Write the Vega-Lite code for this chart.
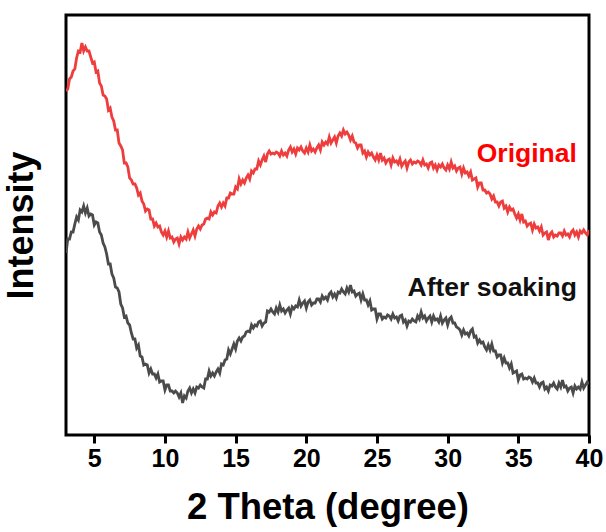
{
  "$schema": "https://vega.github.io/schema/vega-lite/v6.json",
  "width": 523,
  "height": 420,
  "autosize": {"type": "none"},
  "padding": {"left": 66, "top": 15, "right": 17, "bottom": 97},
  "background": "white",
  "config": {
    "view": {"stroke": "#000000", "strokeWidth": 3},
    "font": "Liberation Sans"
  },
  "datasets": {
    "patterns": [
      {"theta":3,"intensity":345,"sample":"Original"},{"theta":3.125,"intensity":347,"sample":"Original"},{"theta":3.25,"intensity":357,"sample":"Original"},{"theta":3.375,"intensity":359,"sample":"Original"},
      {"theta":3.5,"intensity":365,"sample":"Original"},{"theta":3.625,"intensity":367,"sample":"Original"},{"theta":3.75,"intensity":378,"sample":"Original"},{"theta":3.875,"intensity":385,"sample":"Original"},
      {"theta":4,"intensity":384,"sample":"Original"},{"theta":4.125,"intensity":393,"sample":"Original"},{"theta":4.25,"intensity":385,"sample":"Original"},{"theta":4.375,"intensity":389,"sample":"Original"},
      {"theta":4.5,"intensity":385,"sample":"Original"},{"theta":4.625,"intensity":385,"sample":"Original"},{"theta":4.75,"intensity":379,"sample":"Original"},{"theta":4.875,"intensity":373,"sample":"Original"},
      {"theta":5,"intensity":374,"sample":"Original"},{"theta":5.125,"intensity":364,"sample":"Original"},{"theta":5.25,"intensity":365,"sample":"Original"},{"theta":5.375,"intensity":353,"sample":"Original"},
      {"theta":5.5,"intensity":350,"sample":"Original"},{"theta":5.625,"intensity":341,"sample":"Original"},{"theta":5.75,"intensity":340,"sample":"Original"},{"theta":5.875,"intensity":337,"sample":"Original"},
      {"theta":6,"intensity":326,"sample":"Original"},{"theta":6.125,"intensity":328,"sample":"Original"},{"theta":6.25,"intensity":319,"sample":"Original"},{"theta":6.375,"intensity":315,"sample":"Original"},
      {"theta":6.5,"intensity":306,"sample":"Original"},{"theta":6.625,"intensity":306,"sample":"Original"},{"theta":6.75,"intensity":293,"sample":"Original"},{"theta":6.875,"intensity":290,"sample":"Original"},
      {"theta":7,"intensity":286,"sample":"Original"},{"theta":7.125,"intensity":273,"sample":"Original"},{"theta":7.25,"intensity":273,"sample":"Original"},{"theta":7.375,"intensity":269,"sample":"Original"},
      {"theta":7.5,"intensity":258,"sample":"Original"},{"theta":7.625,"intensity":256,"sample":"Original"},{"theta":7.75,"intensity":252,"sample":"Original"},{"theta":7.875,"intensity":252,"sample":"Original"},
      {"theta":8,"intensity":248,"sample":"Original"},{"theta":8.125,"intensity":241,"sample":"Original"},{"theta":8.25,"intensity":243,"sample":"Original"},{"theta":8.375,"intensity":235,"sample":"Original"},
      {"theta":8.5,"intensity":232,"sample":"Original"},{"theta":8.625,"intensity":225,"sample":"Original"},{"theta":8.75,"intensity":227,"sample":"Original"},{"theta":8.875,"intensity":226,"sample":"Original"},
      {"theta":9,"intensity":217,"sample":"Original"},{"theta":9.125,"intensity":217,"sample":"Original"},{"theta":9.25,"intensity":210,"sample":"Original"},{"theta":9.375,"intensity":213,"sample":"Original"},
      {"theta":9.5,"intensity":209,"sample":"Original"},{"theta":9.625,"intensity":210,"sample":"Original"},{"theta":9.75,"intensity":204,"sample":"Original"},{"theta":9.875,"intensity":201,"sample":"Original"},
      {"theta":10,"intensity":205,"sample":"Original"},{"theta":10.125,"intensity":199,"sample":"Original"},{"theta":10.25,"intensity":205,"sample":"Original"},{"theta":10.375,"intensity":198,"sample":"Original"},
      {"theta":10.5,"intensity":199,"sample":"Original"},{"theta":10.625,"intensity":194,"sample":"Original"},{"theta":10.75,"intensity":197,"sample":"Original"},{"theta":10.875,"intensity":198,"sample":"Original"},
      {"theta":11,"intensity":192,"sample":"Original"},{"theta":11.125,"intensity":199,"sample":"Original"},{"theta":11.25,"intensity":196,"sample":"Original"},{"theta":11.375,"intensity":199,"sample":"Original"},
      {"theta":11.5,"intensity":197,"sample":"Original"},{"theta":11.625,"intensity":204,"sample":"Original"},{"theta":11.75,"intensity":198,"sample":"Original"},{"theta":11.875,"intensity":202,"sample":"Original"},
      {"theta":12,"intensity":206,"sample":"Original"},{"theta":12.125,"intensity":200,"sample":"Original"},{"theta":12.25,"intensity":207,"sample":"Original"},{"theta":12.375,"intensity":210,"sample":"Original"},
      {"theta":12.5,"intensity":207,"sample":"Original"},{"theta":12.625,"intensity":211,"sample":"Original"},{"theta":12.75,"intensity":212,"sample":"Original"},{"theta":12.875,"intensity":217,"sample":"Original"},
      {"theta":13,"intensity":218,"sample":"Original"},{"theta":13.125,"intensity":217,"sample":"Original"},{"theta":13.25,"intensity":224,"sample":"Original"},{"theta":13.375,"intensity":221,"sample":"Original"},
      {"theta":13.5,"intensity":224,"sample":"Original"},{"theta":13.625,"intensity":223,"sample":"Original"},{"theta":13.75,"intensity":230,"sample":"Original"},{"theta":13.875,"intensity":233,"sample":"Original"},
      {"theta":14,"intensity":229,"sample":"Original"},{"theta":14.125,"intensity":233,"sample":"Original"},{"theta":14.25,"intensity":230,"sample":"Original"},{"theta":14.375,"intensity":238,"sample":"Original"},
      {"theta":14.5,"intensity":238,"sample":"Original"},{"theta":14.625,"intensity":243,"sample":"Original"},{"theta":14.75,"intensity":242,"sample":"Original"},{"theta":14.875,"intensity":242,"sample":"Original"},
      {"theta":15,"intensity":249,"sample":"Original"},{"theta":15.125,"intensity":247,"sample":"Original"},{"theta":15.25,"intensity":257,"sample":"Original"},{"theta":15.375,"intensity":252,"sample":"Original"},
      {"theta":15.5,"intensity":256,"sample":"Original"},{"theta":15.625,"intensity":253,"sample":"Original"},{"theta":15.75,"intensity":258,"sample":"Original"},{"theta":15.875,"intensity":261,"sample":"Original"},
      {"theta":16,"intensity":257,"sample":"Original"},{"theta":16.125,"intensity":265,"sample":"Original"},{"theta":16.25,"intensity":263,"sample":"Original"},{"theta":16.375,"intensity":267,"sample":"Original"},
      {"theta":16.5,"intensity":267,"sample":"Original"},{"theta":16.625,"intensity":275,"sample":"Original"},{"theta":16.75,"intensity":271,"sample":"Original"},{"theta":16.875,"intensity":276,"sample":"Original"},
      {"theta":17,"intensity":280,"sample":"Original"},{"theta":17.125,"intensity":274,"sample":"Original"},{"theta":17.25,"intensity":282,"sample":"Original"},{"theta":17.375,"intensity":285,"sample":"Original"},
      {"theta":17.5,"intensity":282,"sample":"Original"},{"theta":17.625,"intensity":283,"sample":"Original"},{"theta":17.75,"intensity":282,"sample":"Original"},{"theta":17.875,"intensity":284,"sample":"Original"},
      {"theta":18,"intensity":283,"sample":"Original"},{"theta":18.125,"intensity":280,"sample":"Original"},{"theta":18.25,"intensity":285,"sample":"Original"},{"theta":18.375,"intensity":281,"sample":"Original"},
      {"theta":18.5,"intensity":283,"sample":"Original"},{"theta":18.625,"intensity":280,"sample":"Original"},{"theta":18.75,"intensity":286,"sample":"Original"},{"theta":18.875,"intensity":289,"sample":"Original"},
      {"theta":19,"intensity":284,"sample":"Original"},{"theta":19.125,"intensity":287,"sample":"Original"},{"theta":19.25,"intensity":282,"sample":"Original"},{"theta":19.375,"intensity":288,"sample":"Original"},
      {"theta":19.5,"intensity":286,"sample":"Original"},{"theta":19.625,"intensity":289,"sample":"Original"},{"theta":19.75,"intensity":285,"sample":"Original"},{"theta":19.875,"intensity":283,"sample":"Original"},
      {"theta":20,"intensity":288,"sample":"Original"},{"theta":20.125,"intensity":284,"sample":"Original"},{"theta":20.25,"intensity":291,"sample":"Original"},{"theta":20.375,"intensity":285,"sample":"Original"},
      {"theta":20.5,"intensity":287,"sample":"Original"},{"theta":20.625,"intensity":284,"sample":"Original"},{"theta":20.75,"intensity":288,"sample":"Original"},{"theta":20.875,"intensity":291,"sample":"Original"},
      {"theta":21,"intensity":286,"sample":"Original"},{"theta":21.125,"intensity":294,"sample":"Original"},{"theta":21.25,"intensity":291,"sample":"Original"},{"theta":21.375,"intensity":294,"sample":"Original"},
      {"theta":21.5,"intensity":292,"sample":"Original"},{"theta":21.625,"intensity":299,"sample":"Original"},{"theta":21.75,"intensity":293,"sample":"Original"},{"theta":21.875,"intensity":296,"sample":"Original"},
      {"theta":22,"intensity":299,"sample":"Original"},{"theta":22.125,"intensity":293,"sample":"Original"},{"theta":22.25,"intensity":300,"sample":"Original"},{"theta":22.375,"intensity":303,"sample":"Original"},
      {"theta":22.5,"intensity":300,"sample":"Original"},{"theta":22.625,"intensity":306,"sample":"Original"},{"theta":22.75,"intensity":302,"sample":"Original"},{"theta":22.875,"intensity":304,"sample":"Original"},
      {"theta":23,"intensity":301,"sample":"Original"},{"theta":23.125,"intensity":296,"sample":"Original"},{"theta":23.25,"intensity":300,"sample":"Original"},{"theta":23.375,"intensity":294,"sample":"Original"},
      {"theta":23.5,"intensity":293,"sample":"Original"},{"theta":23.625,"intensity":288,"sample":"Original"},{"theta":23.75,"intensity":291,"sample":"Original"},{"theta":23.875,"intensity":291,"sample":"Original"},
      {"theta":24,"intensity":283,"sample":"Original"},{"theta":24.125,"intensity":285,"sample":"Original"},{"theta":24.25,"intensity":279,"sample":"Original"},{"theta":24.375,"intensity":284,"sample":"Original"},
      {"theta":24.5,"intensity":281,"sample":"Original"},{"theta":24.625,"intensity":283,"sample":"Original"},{"theta":24.75,"intensity":279,"sample":"Original"},{"theta":24.875,"intensity":276,"sample":"Original"},
      {"theta":25,"intensity":281,"sample":"Original"},{"theta":25.125,"intensity":276,"sample":"Original"},{"theta":25.25,"intensity":283,"sample":"Original"},{"theta":25.375,"intensity":276,"sample":"Original"},
      {"theta":25.5,"intensity":278,"sample":"Original"},{"theta":25.625,"intensity":273,"sample":"Original"},{"theta":25.75,"intensity":276,"sample":"Original"},{"theta":25.875,"intensity":277,"sample":"Original"},
      {"theta":26,"intensity":271,"sample":"Original"},{"theta":26.125,"intensity":278,"sample":"Original"},{"theta":26.25,"intensity":274,"sample":"Original"},{"theta":26.375,"intensity":275,"sample":"Original"},
      {"theta":26.5,"intensity":272,"sample":"Original"},{"theta":26.625,"intensity":277,"sample":"Original"},{"theta":26.75,"intensity":270,"sample":"Original"},{"theta":26.875,"intensity":273,"sample":"Original"},
      {"theta":27,"intensity":275,"sample":"Original"},{"theta":27.125,"intensity":268,"sample":"Original"},{"theta":27.25,"intensity":274,"sample":"Original"},{"theta":27.375,"intensity":276,"sample":"Original"},
      {"theta":27.5,"intensity":272,"sample":"Original"},{"theta":27.625,"intensity":274,"sample":"Original"},{"theta":27.75,"intensity":273,"sample":"Original"},{"theta":27.875,"intensity":275,"sample":"Original"},
      {"theta":28,"intensity":274,"sample":"Original"},{"theta":28.125,"intensity":271,"sample":"Original"},{"theta":28.25,"intensity":276,"sample":"Original"},{"theta":28.375,"intensity":271,"sample":"Original"},
      {"theta":28.5,"intensity":272,"sample":"Original"},{"theta":28.625,"intensity":268,"sample":"Original"},{"theta":28.75,"intensity":273,"sample":"Original"},{"theta":28.875,"intensity":274,"sample":"Original"},
      {"theta":29,"intensity":268,"sample":"Original"},{"theta":29.125,"intensity":271,"sample":"Original"},{"theta":29.25,"intensity":266,"sample":"Original"},{"theta":29.375,"intensity":271,"sample":"Original"},
      {"theta":29.5,"intensity":269,"sample":"Original"},{"theta":29.625,"intensity":272,"sample":"Original"},{"theta":29.75,"intensity":268,"sample":"Original"},{"theta":29.875,"intensity":266,"sample":"Original"},
      {"theta":30,"intensity":271,"sample":"Original"},{"theta":30.125,"intensity":267,"sample":"Original"},{"theta":30.25,"intensity":274,"sample":"Original"},{"theta":30.375,"intensity":268,"sample":"Original"},
      {"theta":30.5,"intensity":270,"sample":"Original"},{"theta":30.625,"intensity":265,"sample":"Original"},{"theta":30.75,"intensity":268,"sample":"Original"},{"theta":30.875,"intensity":269,"sample":"Original"},
      {"theta":31,"intensity":262,"sample":"Original"},{"theta":31.125,"intensity":268,"sample":"Original"},{"theta":31.25,"intensity":263,"sample":"Original"},{"theta":31.375,"intensity":264,"sample":"Original"},
      {"theta":31.5,"intensity":260,"sample":"Original"},{"theta":31.625,"intensity":264,"sample":"Original"},{"theta":31.75,"intensity":256,"sample":"Original"},{"theta":31.875,"intensity":257,"sample":"Original"},
      {"theta":32,"intensity":258,"sample":"Original"},{"theta":32.125,"intensity":249,"sample":"Original"},{"theta":32.25,"intensity":253,"sample":"Original"},{"theta":32.375,"intensity":253,"sample":"Original"},
      {"theta":32.5,"intensity":246,"sample":"Original"},{"theta":32.625,"intensity":246,"sample":"Original"},{"theta":32.75,"intensity":243,"sample":"Original"},{"theta":32.875,"intensity":244,"sample":"Original"},
      {"theta":33,"intensity":242,"sample":"Original"},{"theta":33.125,"intensity":237,"sample":"Original"},{"theta":33.25,"intensity":240,"sample":"Original"},{"theta":33.375,"intensity":234,"sample":"Original"},
      {"theta":33.5,"intensity":234,"sample":"Original"},{"theta":33.625,"intensity":230,"sample":"Original"},{"theta":33.75,"intensity":234,"sample":"Original"},{"theta":33.875,"intensity":235,"sample":"Original"},
      {"theta":34,"intensity":228,"sample":"Original"},{"theta":34.125,"intensity":230,"sample":"Original"},{"theta":34.25,"intensity":224,"sample":"Original"},{"theta":34.375,"intensity":229,"sample":"Original"},
      {"theta":34.5,"intensity":226,"sample":"Original"},{"theta":34.625,"intensity":227,"sample":"Original"},{"theta":34.75,"intensity":222,"sample":"Original"},{"theta":34.875,"intensity":218,"sample":"Original"},
      {"theta":35,"intensity":222,"sample":"Original"},{"theta":35.125,"intensity":216,"sample":"Original"},{"theta":35.25,"intensity":222,"sample":"Original"},{"theta":35.375,"intensity":214,"sample":"Original"},
      {"theta":35.5,"intensity":215,"sample":"Original"},{"theta":35.625,"intensity":210,"sample":"Original"},{"theta":35.75,"intensity":212,"sample":"Original"},{"theta":35.875,"intensity":213,"sample":"Original"},
      {"theta":36,"intensity":206,"sample":"Original"},{"theta":36.125,"intensity":212,"sample":"Original"},{"theta":36.25,"intensity":208,"sample":"Original"},{"theta":36.375,"intensity":209,"sample":"Original"},
      {"theta":36.5,"intensity":205,"sample":"Original"},{"theta":36.625,"intensity":209,"sample":"Original"},{"theta":36.75,"intensity":201,"sample":"Original"},{"theta":36.875,"intensity":203,"sample":"Original"},
      {"theta":37,"intensity":204,"sample":"Original"},{"theta":37.125,"intensity":196,"sample":"Original"},{"theta":37.25,"intensity":202,"sample":"Original"},{"theta":37.375,"intensity":204,"sample":"Original"},
      {"theta":37.5,"intensity":199,"sample":"Original"},{"theta":37.625,"intensity":201,"sample":"Original"},{"theta":37.75,"intensity":200,"sample":"Original"},{"theta":37.875,"intensity":203,"sample":"Original"},
      {"theta":38,"intensity":203,"sample":"Original"},{"theta":38.125,"intensity":200,"sample":"Original"},{"theta":38.25,"intensity":205,"sample":"Original"},{"theta":38.375,"intensity":201,"sample":"Original"},
      {"theta":38.5,"intensity":202,"sample":"Original"},{"theta":38.625,"intensity":199,"sample":"Original"},{"theta":38.75,"intensity":204,"sample":"Original"},{"theta":38.875,"intensity":206,"sample":"Original"},
      {"theta":39,"intensity":201,"sample":"Original"},{"theta":39.125,"intensity":204,"sample":"Original"},{"theta":39.25,"intensity":199,"sample":"Original"},{"theta":39.375,"intensity":205,"sample":"Original"},
      {"theta":39.5,"intensity":203,"sample":"Original"},{"theta":39.625,"intensity":206,"sample":"Original"},{"theta":39.75,"intensity":203,"sample":"Original"},{"theta":39.875,"intensity":201,"sample":"Original"},
      {"theta":40,"intensity":206,"sample":"Original"},

      {"theta":3,"intensity":183,"sample":"After soaking"},{"theta":3.125,"intensity":197,"sample":"After soaking"},{"theta":3.25,"intensity":197,"sample":"After soaking"},{"theta":3.375,"intensity":204,"sample":"After soaking"},
      {"theta":3.5,"intensity":204,"sample":"After soaking"},{"theta":3.625,"intensity":212,"sample":"After soaking"},{"theta":3.75,"intensity":219,"sample":"After soaking"},{"theta":3.875,"intensity":216,"sample":"After soaking"},
      {"theta":4,"intensity":226,"sample":"After soaking"},{"theta":4.125,"intensity":224,"sample":"After soaking"},{"theta":4.25,"intensity":230,"sample":"After soaking"},{"theta":4.375,"intensity":223,"sample":"After soaking"},
      {"theta":4.5,"intensity":228,"sample":"After soaking"},{"theta":4.625,"intensity":220,"sample":"After soaking"},{"theta":4.75,"intensity":222,"sample":"After soaking"},{"theta":4.875,"intensity":221,"sample":"After soaking"},
      {"theta":5,"intensity":211,"sample":"After soaking"},{"theta":5.125,"intensity":214,"sample":"After soaking"},{"theta":5.25,"intensity":213,"sample":"After soaking"},{"theta":5.375,"intensity":204,"sample":"After soaking"},
      {"theta":5.5,"intensity":201,"sample":"After soaking"},{"theta":5.625,"intensity":193,"sample":"After soaking"},{"theta":5.75,"intensity":189,"sample":"After soaking"},{"theta":5.875,"intensity":182,"sample":"After soaking"},
      {"theta":6,"intensity":172,"sample":"After soaking"},{"theta":6.125,"intensity":172,"sample":"After soaking"},{"theta":6.25,"intensity":162,"sample":"After soaking"},{"theta":6.375,"intensity":158,"sample":"After soaking"},
      {"theta":6.5,"intensity":149,"sample":"After soaking"},{"theta":6.625,"intensity":148,"sample":"After soaking"},{"theta":6.75,"intensity":144,"sample":"After soaking"},{"theta":6.875,"intensity":132,"sample":"After soaking"},
      {"theta":7,"intensity":128,"sample":"After soaking"},{"theta":7.125,"intensity":119,"sample":"After soaking"},{"theta":7.25,"intensity":120,"sample":"After soaking"},{"theta":7.375,"intensity":113,"sample":"After soaking"},
      {"theta":7.5,"intensity":111,"sample":"After soaking"},{"theta":7.625,"intensity":103,"sample":"After soaking"},{"theta":7.75,"intensity":97,"sample":"After soaking"},{"theta":7.875,"intensity":97,"sample":"After soaking"},
      {"theta":8,"intensity":88,"sample":"After soaking"},{"theta":8.125,"intensity":91,"sample":"After soaking"},{"theta":8.25,"intensity":80,"sample":"After soaking"},{"theta":8.375,"intensity":79,"sample":"After soaking"},
      {"theta":8.5,"intensity":71,"sample":"After soaking"},{"theta":8.625,"intensity":72,"sample":"After soaking"},{"theta":8.75,"intensity":71,"sample":"After soaking"},{"theta":8.875,"intensity":63,"sample":"After soaking"},
      {"theta":9,"intensity":67,"sample":"After soaking"},{"theta":9.125,"intensity":62,"sample":"After soaking"},{"theta":9.25,"intensity":62,"sample":"After soaking"},{"theta":9.375,"intensity":58,"sample":"After soaking"},
      {"theta":9.5,"intensity":62,"sample":"After soaking"},{"theta":9.625,"intensity":54,"sample":"After soaking"},{"theta":9.75,"intensity":55,"sample":"After soaking"},{"theta":9.875,"intensity":55,"sample":"After soaking"},
      {"theta":10,"intensity":46,"sample":"After soaking"},{"theta":10.125,"intensity":51,"sample":"After soaking"},{"theta":10.25,"intensity":51,"sample":"After soaking"},{"theta":10.375,"intensity":45,"sample":"After soaking"},
      {"theta":10.5,"intensity":45,"sample":"After soaking"},{"theta":10.625,"intensity":43,"sample":"After soaking"},{"theta":10.75,"intensity":45,"sample":"After soaking"},{"theta":10.875,"intensity":43,"sample":"After soaking"},
      {"theta":11,"intensity":39,"sample":"After soaking"},{"theta":11.125,"intensity":43,"sample":"After soaking"},{"theta":11.25,"intensity":33,"sample":"After soaking"},{"theta":11.375,"intensity":40,"sample":"After soaking"},
      {"theta":11.5,"intensity":38,"sample":"After soaking"},{"theta":11.625,"intensity":45,"sample":"After soaking"},{"theta":11.75,"intensity":48,"sample":"After soaking"},{"theta":11.875,"intensity":43,"sample":"After soaking"},
      {"theta":12,"intensity":47,"sample":"After soaking"},{"theta":12.125,"intensity":43,"sample":"After soaking"},{"theta":12.25,"intensity":49,"sample":"After soaking"},{"theta":12.375,"intensity":48,"sample":"After soaking"},
      {"theta":12.5,"intensity":51,"sample":"After soaking"},{"theta":12.625,"intensity":49,"sample":"After soaking"},{"theta":12.75,"intensity":48,"sample":"After soaking"},{"theta":12.875,"intensity":57,"sample":"After soaking"},
      {"theta":13,"intensity":57,"sample":"After soaking"},{"theta":13.125,"intensity":65,"sample":"After soaking"},{"theta":13.25,"intensity":60,"sample":"After soaking"},{"theta":13.375,"intensity":63,"sample":"After soaking"},
      {"theta":13.5,"intensity":60,"sample":"After soaking"},{"theta":13.625,"intensity":64,"sample":"After soaking"},{"theta":13.75,"intensity":67,"sample":"After soaking"},{"theta":13.875,"intensity":63,"sample":"After soaking"},
      {"theta":14,"intensity":72,"sample":"After soaking"},{"theta":14.125,"intensity":71,"sample":"After soaking"},{"theta":14.25,"intensity":76,"sample":"After soaking"},{"theta":14.375,"intensity":77,"sample":"After soaking"},
      {"theta":14.5,"intensity":86,"sample":"After soaking"},{"theta":14.625,"intensity":82,"sample":"After soaking"},{"theta":14.75,"intensity":87,"sample":"After soaking"},{"theta":14.875,"intensity":92,"sample":"After soaking"},
      {"theta":15,"intensity":87,"sample":"After soaking"},{"theta":15.125,"intensity":95,"sample":"After soaking"},{"theta":15.25,"intensity":98,"sample":"After soaking"},{"theta":15.375,"intensity":95,"sample":"After soaking"},
      {"theta":15.5,"intensity":99,"sample":"After soaking"},{"theta":15.625,"intensity":100,"sample":"After soaking"},{"theta":15.75,"intensity":104,"sample":"After soaking"},{"theta":15.875,"intensity":105,"sample":"After soaking"},
      {"theta":16,"intensity":104,"sample":"After soaking"},{"theta":16.125,"intensity":111,"sample":"After soaking"},{"theta":16.25,"intensity":108,"sample":"After soaking"},{"theta":16.375,"intensity":111,"sample":"After soaking"},
      {"theta":16.5,"intensity":110,"sample":"After soaking"},{"theta":16.625,"intensity":114,"sample":"After soaking"},{"theta":16.75,"intensity":115,"sample":"After soaking"},{"theta":16.875,"intensity":110,"sample":"After soaking"},
      {"theta":17,"intensity":113,"sample":"After soaking"},{"theta":17.125,"intensity":114,"sample":"After soaking"},{"theta":17.25,"intensity":125,"sample":"After soaking"},{"theta":17.375,"intensity":124,"sample":"After soaking"},
      {"theta":17.5,"intensity":127,"sample":"After soaking"},{"theta":17.625,"intensity":124,"sample":"After soaking"},{"theta":17.75,"intensity":122,"sample":"After soaking"},{"theta":17.875,"intensity":128,"sample":"After soaking"},
      {"theta":18,"intensity":124,"sample":"After soaking"},{"theta":18.125,"intensity":131,"sample":"After soaking"},{"theta":18.25,"intensity":125,"sample":"After soaking"},{"theta":18.375,"intensity":127,"sample":"After soaking"},
      {"theta":18.5,"intensity":123,"sample":"After soaking"},{"theta":18.625,"intensity":126,"sample":"After soaking"},{"theta":18.75,"intensity":128,"sample":"After soaking"},{"theta":18.875,"intensity":122,"sample":"After soaking"},
      {"theta":19,"intensity":129,"sample":"After soaking"},{"theta":19.125,"intensity":127,"sample":"After soaking"},{"theta":19.25,"intensity":130,"sample":"After soaking"},{"theta":19.375,"intensity":129,"sample":"After soaking"},
      {"theta":19.5,"intensity":136,"sample":"After soaking"},{"theta":19.625,"intensity":130,"sample":"After soaking"},{"theta":19.75,"intensity":133,"sample":"After soaking"},{"theta":19.875,"intensity":135,"sample":"After soaking"},
      {"theta":20,"intensity":128,"sample":"After soaking"},{"theta":20.125,"intensity":134,"sample":"After soaking"},{"theta":20.25,"intensity":136,"sample":"After soaking"},{"theta":20.375,"intensity":131,"sample":"After soaking"},
      {"theta":20.5,"intensity":133,"sample":"After soaking"},{"theta":20.625,"intensity":133,"sample":"After soaking"},{"theta":20.75,"intensity":137,"sample":"After soaking"},{"theta":20.875,"intensity":137,"sample":"After soaking"},
      {"theta":21,"intensity":134,"sample":"After soaking"},{"theta":21.125,"intensity":140,"sample":"After soaking"},{"theta":21.25,"intensity":137,"sample":"After soaking"},{"theta":21.375,"intensity":139,"sample":"After soaking"},
      {"theta":21.5,"intensity":136,"sample":"After soaking"},{"theta":21.625,"intensity":142,"sample":"After soaking"},{"theta":21.75,"intensity":144,"sample":"After soaking"},{"theta":21.875,"intensity":139,"sample":"After soaking"},
      {"theta":22,"intensity":142,"sample":"After soaking"},{"theta":22.125,"intensity":138,"sample":"After soaking"},{"theta":22.25,"intensity":144,"sample":"After soaking"},{"theta":22.375,"intensity":143,"sample":"After soaking"},
      {"theta":22.5,"intensity":147,"sample":"After soaking"},{"theta":22.625,"intensity":144,"sample":"After soaking"},{"theta":22.75,"intensity":142,"sample":"After soaking"},{"theta":22.875,"intensity":148,"sample":"After soaking"},
      {"theta":23,"intensity":144,"sample":"After soaking"},{"theta":23.125,"intensity":151,"sample":"After soaking"},{"theta":23.25,"intensity":144,"sample":"After soaking"},{"theta":23.375,"intensity":145,"sample":"After soaking"},
      {"theta":23.5,"intensity":140,"sample":"After soaking"},{"theta":23.625,"intensity":142,"sample":"After soaking"},{"theta":23.75,"intensity":143,"sample":"After soaking"},{"theta":23.875,"intensity":136,"sample":"After soaking"},
      {"theta":24,"intensity":142,"sample":"After soaking"},{"theta":24.125,"intensity":136,"sample":"After soaking"},{"theta":24.25,"intensity":136,"sample":"After soaking"},{"theta":24.375,"intensity":131,"sample":"After soaking"},
      {"theta":24.5,"intensity":135,"sample":"After soaking"},{"theta":24.625,"intensity":126,"sample":"After soaking"},{"theta":24.75,"intensity":127,"sample":"After soaking"},{"theta":24.875,"intensity":127,"sample":"After soaking"},
      {"theta":25,"intensity":117,"sample":"After soaking"},{"theta":25.125,"intensity":122,"sample":"After soaking"},{"theta":25.25,"intensity":122,"sample":"After soaking"},{"theta":25.375,"intensity":117,"sample":"After soaking"},
      {"theta":25.5,"intensity":119,"sample":"After soaking"},{"theta":25.625,"intensity":118,"sample":"After soaking"},{"theta":25.75,"intensity":121,"sample":"After soaking"},{"theta":25.875,"intensity":120,"sample":"After soaking"},
      {"theta":26,"intensity":117,"sample":"After soaking"},{"theta":26.125,"intensity":122,"sample":"After soaking"},{"theta":26.25,"intensity":118,"sample":"After soaking"},{"theta":26.375,"intensity":119,"sample":"After soaking"},
      {"theta":26.5,"intensity":115,"sample":"After soaking"},{"theta":26.625,"intensity":120,"sample":"After soaking"},{"theta":26.75,"intensity":121,"sample":"After soaking"},{"theta":26.875,"intensity":114,"sample":"After soaking"},
      {"theta":27,"intensity":116,"sample":"After soaking"},{"theta":27.125,"intensity":110,"sample":"After soaking"},{"theta":27.25,"intensity":115,"sample":"After soaking"},{"theta":27.375,"intensity":114,"sample":"After soaking"},
      {"theta":27.5,"intensity":117,"sample":"After soaking"},{"theta":27.625,"intensity":115,"sample":"After soaking"},{"theta":27.75,"intensity":114,"sample":"After soaking"},{"theta":27.875,"intensity":120,"sample":"After soaking"},
      {"theta":28,"intensity":117,"sample":"After soaking"},{"theta":28.125,"intensity":124,"sample":"After soaking"},{"theta":28.25,"intensity":118,"sample":"After soaking"},{"theta":28.375,"intensity":120,"sample":"After soaking"},
      {"theta":28.5,"intensity":115,"sample":"After soaking"},{"theta":28.625,"intensity":118,"sample":"After soaking"},{"theta":28.75,"intensity":120,"sample":"After soaking"},{"theta":28.875,"intensity":114,"sample":"After soaking"},
      {"theta":29,"intensity":120,"sample":"After soaking"},{"theta":29.125,"intensity":116,"sample":"After soaking"},{"theta":29.25,"intensity":117,"sample":"After soaking"},{"theta":29.375,"intensity":114,"sample":"After soaking"},
      {"theta":29.5,"intensity":120,"sample":"After soaking"},{"theta":29.625,"intensity":113,"sample":"After soaking"},{"theta":29.75,"intensity":116,"sample":"After soaking"},{"theta":29.875,"intensity":118,"sample":"After soaking"},
      {"theta":30,"intensity":111,"sample":"After soaking"},{"theta":30.125,"intensity":117,"sample":"After soaking"},{"theta":30.25,"intensity":119,"sample":"After soaking"},{"theta":30.375,"intensity":113,"sample":"After soaking"},
      {"theta":30.5,"intensity":113,"sample":"After soaking"},{"theta":30.625,"intensity":109,"sample":"After soaking"},{"theta":30.75,"intensity":108,"sample":"After soaking"},{"theta":30.875,"intensity":106,"sample":"After soaking"},
      {"theta":31,"intensity":101,"sample":"After soaking"},{"theta":31.125,"intensity":106,"sample":"After soaking"},{"theta":31.25,"intensity":102,"sample":"After soaking"},{"theta":31.375,"intensity":103,"sample":"After soaking"},
      {"theta":31.5,"intensity":100,"sample":"After soaking"},{"theta":31.625,"intensity":105,"sample":"After soaking"},{"theta":31.75,"intensity":107,"sample":"After soaking"},{"theta":31.875,"intensity":99,"sample":"After soaking"},
      {"theta":32,"intensity":100,"sample":"After soaking"},{"theta":32.125,"intensity":93,"sample":"After soaking"},{"theta":32.25,"intensity":96,"sample":"After soaking"},{"theta":32.375,"intensity":93,"sample":"After soaking"},
      {"theta":32.5,"intensity":94,"sample":"After soaking"},{"theta":32.625,"intensity":89,"sample":"After soaking"},{"theta":32.75,"intensity":86,"sample":"After soaking"},{"theta":32.875,"intensity":91,"sample":"After soaking"},
      {"theta":33,"intensity":86,"sample":"After soaking"},{"theta":33.125,"intensity":92,"sample":"After soaking"},{"theta":33.25,"intensity":85,"sample":"After soaking"},{"theta":33.375,"intensity":85,"sample":"After soaking"},
      {"theta":33.5,"intensity":79,"sample":"After soaking"},{"theta":33.625,"intensity":81,"sample":"After soaking"},{"theta":33.75,"intensity":81,"sample":"After soaking"},{"theta":33.875,"intensity":73,"sample":"After soaking"},
      {"theta":34,"intensity":78,"sample":"After soaking"},{"theta":34.125,"intensity":73,"sample":"After soaking"},{"theta":34.25,"intensity":73,"sample":"After soaking"},{"theta":34.375,"intensity":68,"sample":"After soaking"},
      {"theta":34.5,"intensity":72,"sample":"After soaking"},{"theta":34.625,"intensity":63,"sample":"After soaking"},{"theta":34.75,"intensity":64,"sample":"After soaking"},{"theta":34.875,"intensity":65,"sample":"After soaking"},
      {"theta":35,"intensity":56,"sample":"After soaking"},{"theta":35.125,"intensity":61,"sample":"After soaking"},{"theta":35.25,"intensity":62,"sample":"After soaking"},{"theta":35.375,"intensity":57,"sample":"After soaking"},
      {"theta":35.5,"intensity":58,"sample":"After soaking"},{"theta":35.625,"intensity":57,"sample":"After soaking"},{"theta":35.75,"intensity":59,"sample":"After soaking"},{"theta":35.875,"intensity":58,"sample":"After soaking"},
      {"theta":36,"intensity":54,"sample":"After soaking"},{"theta":36.125,"intensity":58,"sample":"After soaking"},{"theta":36.25,"intensity":53,"sample":"After soaking"},{"theta":36.375,"intensity":53,"sample":"After soaking"},
      {"theta":36.5,"intensity":49,"sample":"After soaking"},{"theta":36.625,"intensity":53,"sample":"After soaking"},{"theta":36.75,"intensity":54,"sample":"After soaking"},{"theta":36.875,"intensity":47,"sample":"After soaking"},
      {"theta":37,"intensity":49,"sample":"After soaking"},{"theta":37.125,"intensity":45,"sample":"After soaking"},{"theta":37.25,"intensity":51,"sample":"After soaking"},{"theta":37.375,"intensity":50,"sample":"After soaking"},
      {"theta":37.5,"intensity":53,"sample":"After soaking"},{"theta":37.625,"intensity":49,"sample":"After soaking"},{"theta":37.75,"intensity":47,"sample":"After soaking"},{"theta":37.875,"intensity":53,"sample":"After soaking"},
      {"theta":38,"intensity":49,"sample":"After soaking"},{"theta":38.125,"intensity":56,"sample":"After soaking"},{"theta":38.25,"intensity":49,"sample":"After soaking"},{"theta":38.375,"intensity":50,"sample":"After soaking"},
      {"theta":38.5,"intensity":45,"sample":"After soaking"},{"theta":38.625,"intensity":48,"sample":"After soaking"},{"theta":38.75,"intensity":49,"sample":"After soaking"},{"theta":38.875,"intensity":43,"sample":"After soaking"},
      {"theta":39,"intensity":50,"sample":"After soaking"},{"theta":39.125,"intensity":47,"sample":"After soaking"},{"theta":39.25,"intensity":49,"sample":"After soaking"},{"theta":39.375,"intensity":47,"sample":"After soaking"},
      {"theta":39.5,"intensity":54,"sample":"After soaking"},{"theta":39.625,"intensity":48,"sample":"After soaking"},{"theta":39.75,"intensity":51,"sample":"After soaking"},{"theta":39.875,"intensity":54,"sample":"After soaking"},
      {"theta":40,"intensity":52,"sample":"After soaking"}
    ],
    "labels": [
      {"theta":39.14,"intensity":274,"sample":"Original"},
      {"theta":39.14,"intensity":140,"sample":"After soaking"}
    ]
  },
  "layer": [
    {
      "data": {"name": "patterns"},
      "mark": {"type": "line", "strokeWidth": 2.8, "clip": true},
      "encoding": {
        "x": {
          "field": "theta",
          "type": "quantitative",
          "scale": {"domain": [3, 40], "nice": false, "zero": false},
          "axis": {
            "title": "2 Theta (degree)",
            "values": [5, 7.5, 10, 12.5, 15, 17.5, 20, 22.5, 25, 27.5, 30, 32.5, 35, 37.5, 40],
            "labelExpr": "datum.value % 5 === 0 ? datum.label : ''",
            "labelFlush": false,
            "labelOverlap": false,
            "domain": false,
            "grid": false,
            "tickColor": "#000000",
            "tickWidth": 3,
            "tickSize": {"condition": {"test": "datum.value % 5 !== 0", "value": 4}, "value": 8},
            "labelFont": "Liberation Sans",
            "labelFontWeight": "bold",
            "labelFontSize": 25,
            "labelColor": "#000000",
            "labelPadding": 3,
            "titleFont": "Liberation Sans",
            "titleFontSize": 36.5,
            "titleFontWeight": "bold",
            "titleColor": "#000000",
            "titlePadding": 18
          }
        },
        "y": {
          "field": "intensity",
          "type": "quantitative",
          "scale": {"domain": [1, 421], "nice": false, "zero": false},
          "axis": {
            "title": "Intensity",
            "labels": false,
            "ticks": false,
            "domain": false,
            "grid": false,
            "titleFont": "Liberation Sans",
            "titleFontSize": 36,
            "titleFontWeight": "bold",
            "titleColor": "#000000",
            "titlePadding": 26
          }
        },
        "color": {
          "field": "sample",
          "type": "nominal",
          "scale": {"domain": ["Original", "After soaking"], "range": ["#ee3d3d", "#4b4b4b"]},
          "legend": null
        }
      }
    },
    {
      "data": {"name": "labels"},
      "mark": {"type": "text", "align": "right", "baseline": "alphabetic", "font": "Liberation Sans", "fontSize": 26.5, "fontWeight": "bold"},
      "encoding": {
        "x": {"field": "theta", "type": "quantitative"},
        "y": {"field": "intensity", "type": "quantitative"},
        "text": {"field": "sample"},
        "color": {
          "field": "sample",
          "type": "nominal",
          "scale": {"domain": ["Original", "After soaking"], "range": ["#ff0000", "#111111"]},
          "legend": null
        }
      }
    }
  ],
  "resolve": {"scale": {"color": "independent"}}
}
